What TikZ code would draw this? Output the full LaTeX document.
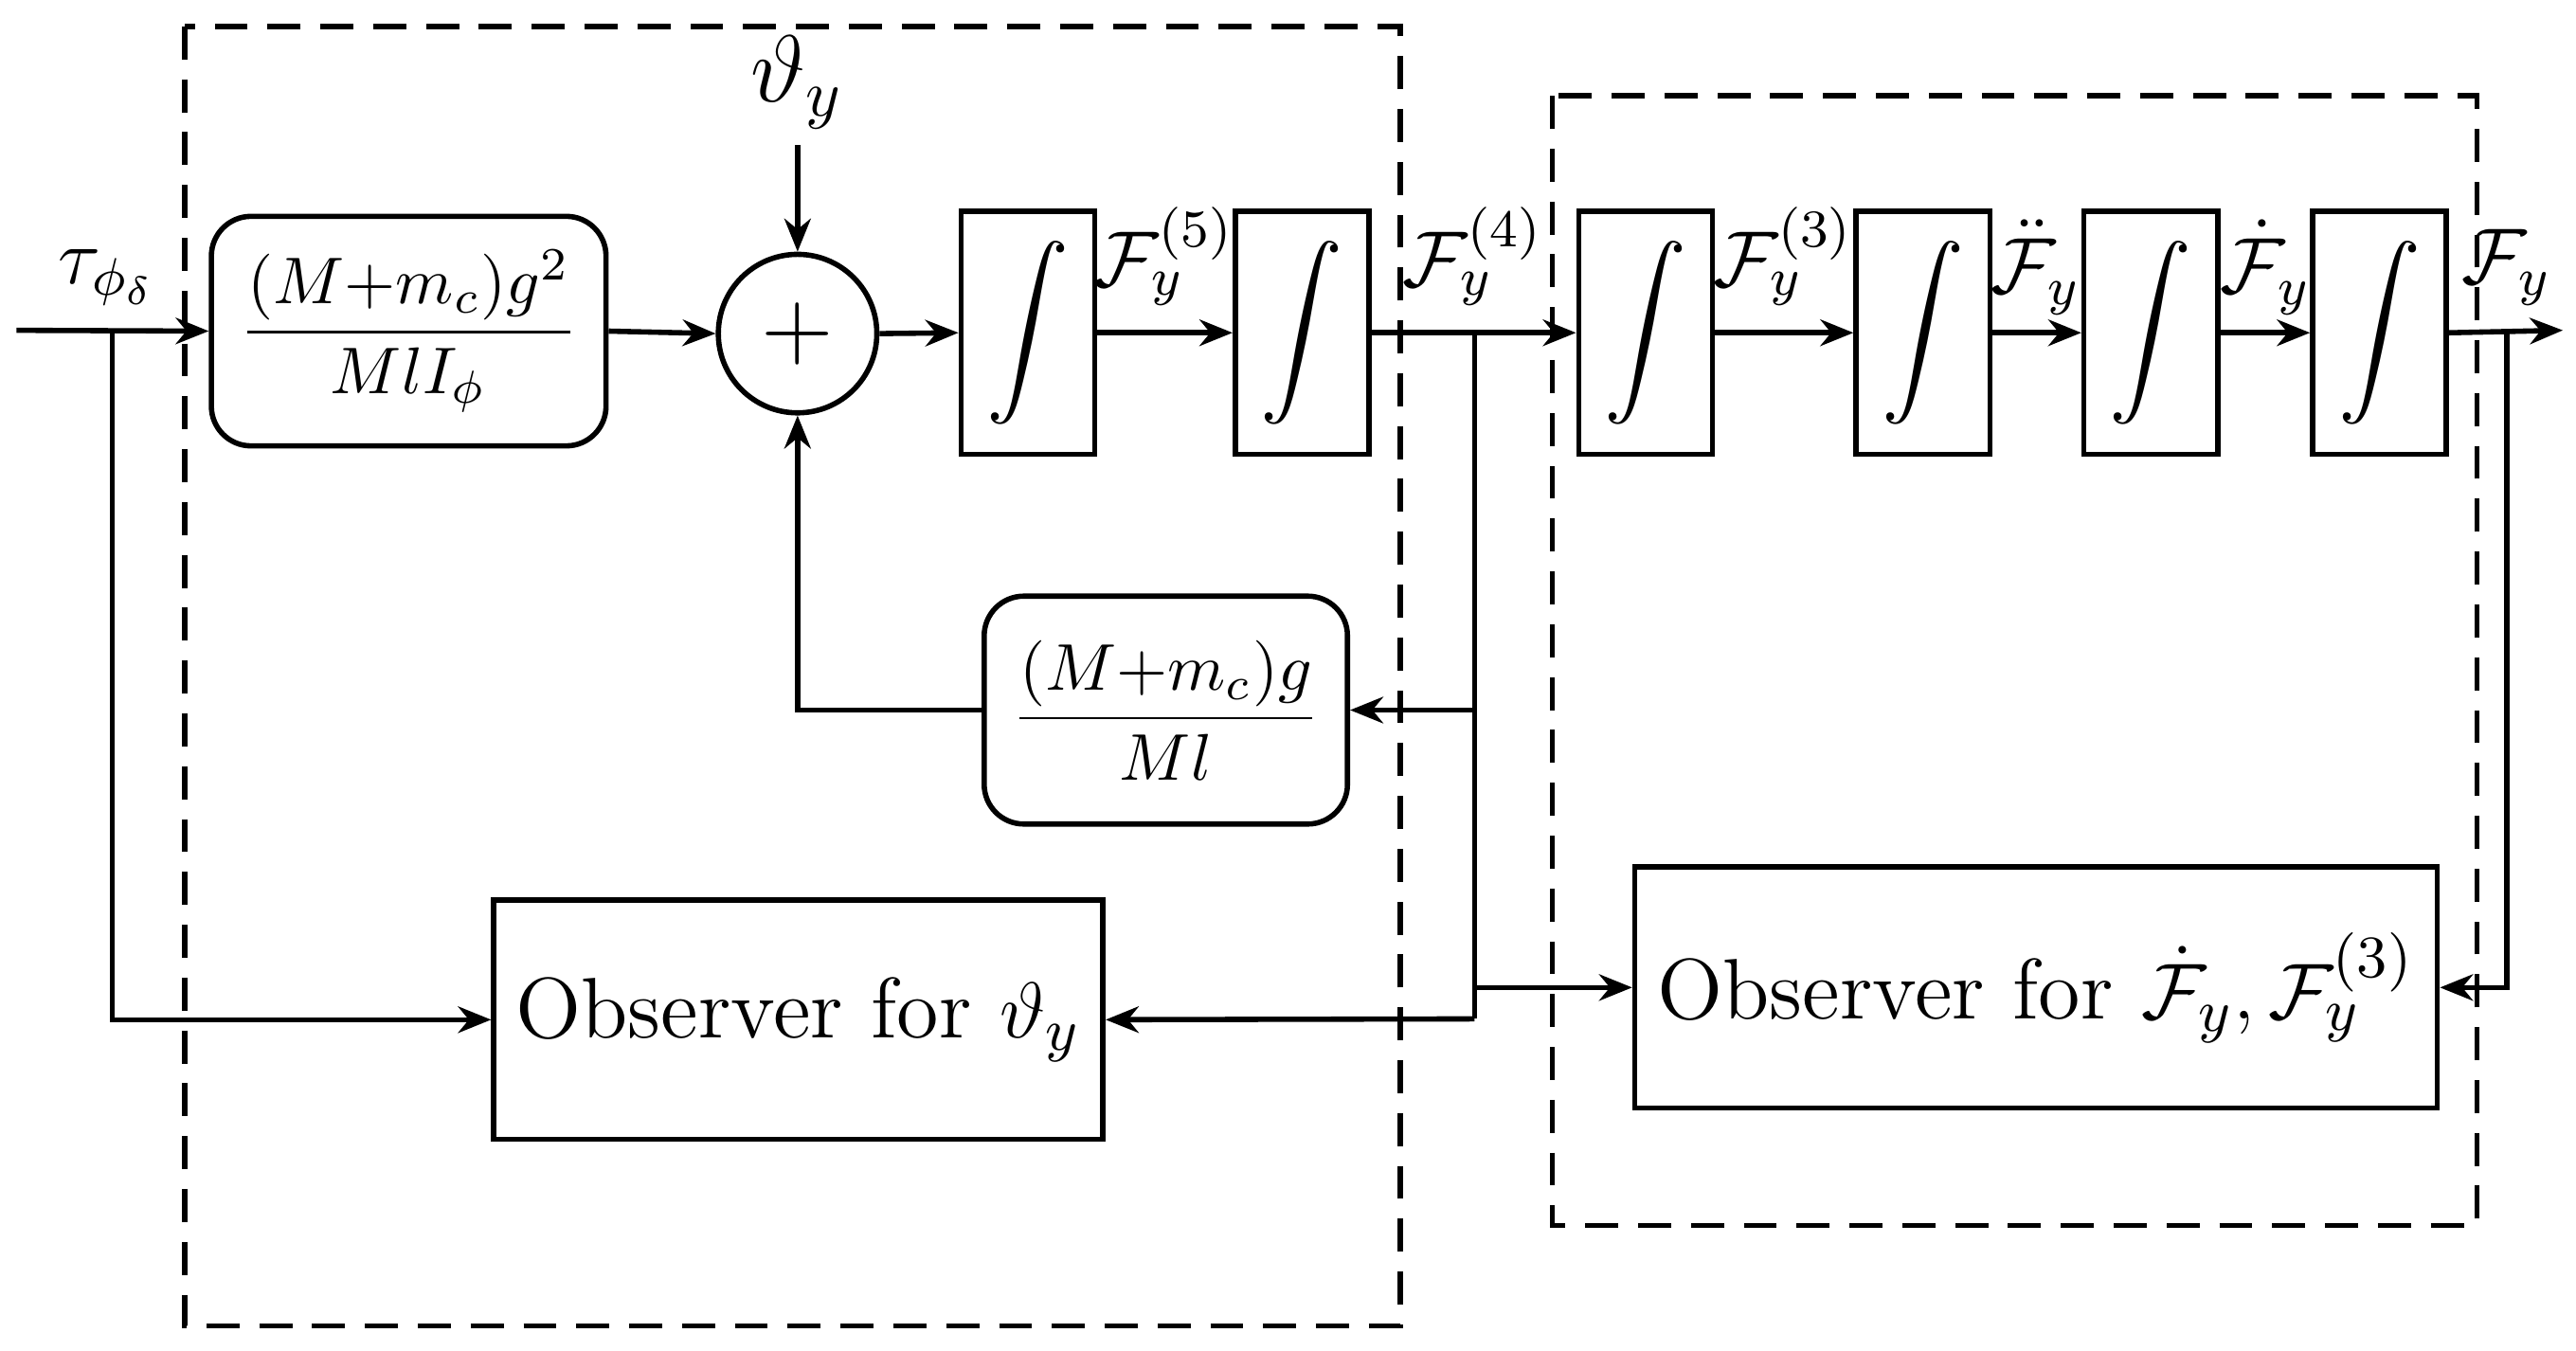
\documentclass[tikz,border=0pt]{standalone}
\usepackage{amsmath}
\usetikzlibrary{arrows.meta}
\begin{document}
\begin{tikzpicture}[x=0.25pt,y=-0.25pt,
  intg/.style={draw,thick,minimum width=20.25pt,minimum height=36.75pt,inner sep=0pt,font=\normalsize},
  lab/.style={font=\large},
  ar/.style={thick,-{Stealth[length=5pt,width=4pt]}},
  ln/.style={thick},
  obs/.style={draw,thick,font=\fontsize{13}{15}\selectfont},
  dsh/.style={thick,dash pattern=on 5pt off 3pt}]
\useasboundingbox (0,0) rectangle (1560,818);
\draw[dsh] (112,16) rectangle (848,803);
\draw[dsh] (940,58) rectangle (1500,742);
% blocks
\node[draw,thick,rounded corners=6pt,minimum width=59.75pt,minimum height=34.75pt,inner sep=1pt,font=\normalsize] (g1) at (247.5,200.5) {$\dfrac{(M{+}m_c)g^2}{MlI_\phi}$};
\node[draw,thick,circle,minimum size=24pt,inner sep=0pt,font=\Large] (s) at (483,202) {$+$};
\node[font=\Large] (th) at (483,50) {$\vartheta_y$};
\coordinate (thb) at (483,88);
\foreach \n/\x in {i1/622.5,i2/788.5,i3/996.5,i4/1164.5,i5/1302.5,i6/1441}
  \node[intg] (\n) at (\x,201.5) {\scalebox{1.25}{$\displaystyle\int$}};
\node[draw,thick,rounded corners=6pt,minimum width=55pt,minimum height=34.5pt,inner sep=1pt,font=\normalsize] (g2) at (706,430) {$\dfrac{(M{+}m_c)g}{Ml}$};
\node[obs,minimum width=91.25pt,minimum height=36.25pt] (o1) at (483.5,617.5) {Observer for $\vartheta_y$};
\node[obs,minimum width=121.5pt,minimum height=36.5pt] (o2) at (1233,598) {Observer for $\dot{\mathcal{F}}_y,\mathcal{F}_y^{(3)}$};
% labels
\node[lab] at (65,168) {$\tau_{\phi_\delta}$};
\node[lab] at (705,155) {$\mathcal{F}_y^{(5)}$};
\node[lab] at (892,155) {$\mathcal{F}_y^{(4)}$};
\node[lab] at (1080,155) {$\mathcal{F}_y^{(3)}$};
\node[lab] at (1233,162) {$\ddot{\mathcal{F}}_y$};
\node[lab] at (1372,162) {$\dot{\mathcal{F}}_y$};
\node[lab] at (1518,162) {$\mathcal{F}_y$};
% coordinates
\coordinate (in) at (10,200);
\coordinate (bi) at (68,200);
\coordinate (bf) at (893,200);
\coordinate (bo) at (1518,200);
\coordinate (out) at (1552,200);
% connectors
\draw[ar] (in) -- (g1.west);
\draw[ar] (g1.east) -- (s.west);
\draw[ar] (thb) -- (s.north);
\draw[ar] (s.east) -- (i1.west);
\draw[ar] (i1.east) -- (i2.west);
\draw[ar] (i2.east) -- (i3.west);
\draw[ar] (i3.east) -- (i4.west);
\draw[ar] (i4.east) -- (i5.west);
\draw[ar] (i5.east) -- (i6.west);
\draw[ar] (i6.east) -- (out);
\draw[ln] (bf) -- (893,617);
\draw[ar] (893,430) -- (g2.east);
\draw[ar] (g2.west) -| (s.south);
\draw[ar] (893,598) -- (o2.west);
\draw[ar] (893,617) -- (o1.east);
\draw[ar] (bi) |- (o1.west);
\draw[ar] (bo) |- (o2.east);
\end{tikzpicture}
\end{document}
